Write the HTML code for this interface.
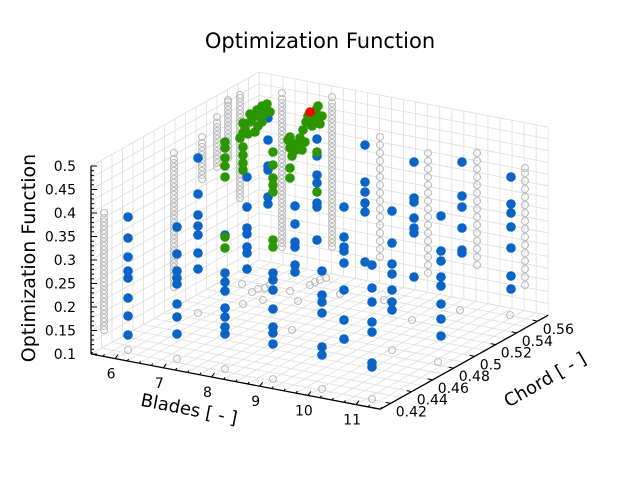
<!DOCTYPE html><html><head><style>body{margin:0;background:#fff}svg{display:block}text{font-family:"DejaVu Sans","Liberation Sans",sans-serif;fill:#000}</style></head><body>
<svg id="s" width="640" height="480" xmlns="http://www.w3.org/2000/svg">
<text x="320" y="48" font-size="21" text-anchor="middle">Optimization Function</text>
<text transform="translate(35,258) rotate(-90)" font-size="19" text-anchor="middle">Optimization Function</text>
<text transform="translate(188,415) rotate(11)" font-size="18" text-anchor="middle">Blades [ - ]</text>
<text transform="translate(548,385) rotate(-30)" font-size="18" text-anchor="middle">Chord [ - ]</text>
<g id="g"></g>
</svg>
<script>
var g=document.getElementById('g'),h='';
function L(x1,y1,x2,y2,c,w){h+='<line x1="'+x1+'" y1="'+y1+'" x2="'+x2+'" y2="'+y2+'" stroke="'+c+'" stroke-width="'+(w||1)+'"/>';}
var A=[91,354],bv=[48.2,9.2],cv=[168,-94],zh=188;
function P(b,c,z){var cc=(c-0.41)/0.16;return [A[0]+(b-5.5)*bv[0]+cc*cv[0],A[1]+(b-5.5)*bv[1]+cc*cv[1]-(z-0.1)/0.4*zh];}
var gc='#dedede';
for(var b=5.5;b<=11.5001;b+=0.25){var p=P(b,0.41,0.1),q=P(b,0.57,0.1);L(p[0],p[1],q[0],q[1],gc,0.8);}
for(var c=0.41;c<=0.5701;c+=0.01){var p=P(5.5,c,0.1),q=P(11.5,c,0.1);L(p[0],p[1],q[0],q[1],gc,0.8);}
for(var c=0.41;c<=0.5701;c+=0.01){var p=P(5.5,c,0.1),q=P(5.5,c,0.5);L(p[0],p[1],q[0],q[1],gc,0.8);}
for(var z=0.1;z<=0.5001;z+=0.025){var p=P(5.5,0.41,z),q=P(5.5,0.57,z);L(p[0],p[1],q[0],q[1],gc,0.8);}
for(var b=5.5;b<=11.5001;b+=0.25){var p=P(b,0.57,0.1),q=P(b,0.57,0.5);L(p[0],p[1],q[0],q[1],gc,0.8);}
for(var z=0.1;z<=0.5001;z+=0.025){var p=P(5.5,0.57,z),q=P(11.5,0.57,z);L(p[0],p[1],q[0],q[1],gc,0.8);}
var a=P(5.5,0.41,0.1),bb=P(11.5,0.41,0.1),cc=P(11.5,0.57,0.1),t=P(5.5,0.41,0.5);
L(a[0],a[1],bb[0],bb[1],'#000',1.3);L(bb[0],bb[1],cc[0],cc[1],'#000',1.3);L(a[0],a[1],t[0],t[1],'#000',1.3);
for(var z=0.1;z<=0.5001;z+=0.01){var y=354-(z-0.1)/0.4*188,maj=Math.abs(z*20-Math.round(z*20))<1e-6;L(91,y,maj?97:94,y,'#000',1);}
var zl=['0.1','0.15','0.2','0.25','0.3','0.35','0.4','0.45','0.5'];
zl.forEach(function(s,i){h+='<text x="76" y="'+(359-i*23.5)+'" font-size="14" text-anchor="end">'+s+'</text>';});
for(var b=6;b<=11;b++){var p=P(b,0.41,0.1);L(p[0],p[1],p[0]+3,p[1]-4,'#000',1);h+='<text x="'+(p[0]-4)+'" y="'+(p[1]+20)+'" font-size="14" text-anchor="middle">'+b+'</text>';}
for(var b=5.5;b<=11.5;b+=0.25){var p=P(b,0.41,0.1);L(p[0],p[1],p[0]+1.5,p[1]-2,'#000',1);}
[0.42,0.44,0.46,0.48,0.5,0.52,0.54,0.56].forEach(function(c){var p=P(11.5,c,0.1);L(p[0],p[1],p[0]-5,p[1]-1,'#000',1);h+='<text x="'+(p[0]+5)+'" y="'+(p[1]+13)+'" font-size="14">'+c+'</text>';});
function GC(x,y){h+='<circle cx="'+x+'" cy="'+y+'" r="3.5" fill="none" stroke="#bdbdbd" stroke-width="1.1"/>';}
var gcols=[[104,213,332,2],[174,153,290,3],[202,137,180,3],[217,117,167,3],[228,100,160,2],[240,95,200,2],[282,93,247,3],[332,97,247,3],[380,137,257,5],[428,153,273,5],[477,153,270,5],[525,168,290,5]];
gcols.forEach(function(c){for(var y=c[1];y<=c[2];y+=c[3]+((y*7)%4)){GC(c[0],y);}});
[[128,350],[177,359],[225,369],[273,379],[322,389],[372,399],[198,313],[243,304],[292,330],[345,340],[392,350],[438,362],[265,288],[290,291],[310,285],[263,300],[340,294],[384,300],[412,320],[460,310],[510,315],[242,284],[298,301],[315,282],[270,285],[252,292],[258,289],[320,280],[326,278]].forEach(function(p){GC(p[0],p[1]);});
function D(x,y,c){h+='<circle cx="'+x+'" cy="'+y+'" r="4.8" fill="'+c+'"/>';}
var blue=[[128,[217,238,257,271,278,298,316,335]],[177,[227,254,271,278,284,304,317,334]],[198,[158,194,215,226,235,253,269]],[225,[235,273,282,291,308,317,327,334]],[247,[177,207,228,234,247,253,269]],[268,[118,140,166,170,197,204]],[273,[273,280,290,309,327,333,344]],[295,[206,224,242,247,265,272]],[317,[139,156,175,183,203,207,240]],[322,[271,295,302,313,347,355]],[344,[207,237,247,251,263,290,320,339]],[365,[145,182,192,203,212,262]],[372,[265,288,302,322,332,363,367]],[392,[211,243,264,274,290,302,310]],[414,[162,198,202,218,228,233,277]],[441,[216,251,261,277,286,304,319,336]],[462,[162,196,207,228,250,253]],[511,[177,204,213,227,248,276,289]]];
blue.forEach(function(c){c[1].forEach(function(y){D(c[0],y,'#0a64c8');});});
var gr='#2a9600';
[[225,[142,148,158,166,177,237,248]],[243,[123,133,147,155,163,170]],[273,[152,165,178,185,192,240,247]],[290,[137,148,168,178]],[317,[152,192]]].forEach(function(c){c[1].forEach(function(y){D(c[0],y,gr);});});
[[253,118],[257,110],[262,106],[267,104],[258,126],[262,122],[270,112],[255,132],[250,122],[245,128],[300,138],[303,130],[306,122],[308,116],[313,114],[316,110],[318,118],[320,124],[312,126],[298,146],[302,150],[292,156],[250,114],[264,114],[260,116],[266,108],[248,134],[240,138],[305,142],[315,120],[322,116],[318,106],[295,144],[296,150],[288,140]].forEach(function(p){D(p[0],p[1],gr);});
D(310,112,'#ff0000');
g.innerHTML=h;
</script>
</body></html>
